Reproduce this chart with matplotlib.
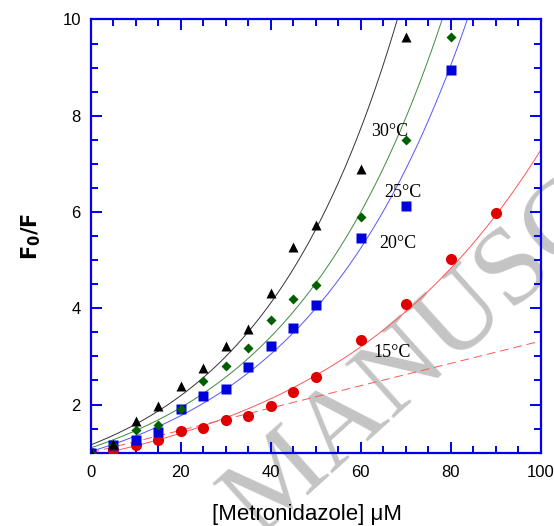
import numpy as np
import matplotlib
matplotlib.use("Agg")
import matplotlib.pyplot as plt

# concentrations (uM) and F0/F at each temperature
x_15 = [0, 5, 10, 15, 20, 25, 30, 35, 40, 45, 50, 60, 70, 80, 90]
y_15 = [1.0, 1.06, 1.16, 1.26, 1.44, 1.51, 1.68, 1.76, 1.97, 2.27, 2.57, 3.34, 4.09, 5.02, 5.97]

x_20 = [0, 5, 10, 15, 20, 25, 30, 35, 40, 45, 50, 60, 70, 80]
y_20 = [1.0, 1.15, 1.26, 1.42, 1.90, 2.17, 2.33, 2.77, 3.22, 3.58, 4.06, 5.45, 6.13, 8.95]

x_25 = [0, 5, 10, 15, 20, 25, 30, 35, 40, 45, 50, 60, 70, 80]
y_25 = [1.0, 1.16, 1.47, 1.58, 1.90, 2.49, 2.80, 3.18, 3.76, 4.19, 4.48, 5.89, 7.50, 9.63]

x_30 = [0, 5, 10, 15, 20, 25, 30, 35, 40, 45, 50, 60, 70]
y_30 = [1.0, 1.17, 1.66, 1.98, 2.39, 2.76, 3.21, 3.57, 4.31, 5.27, 5.72, 6.89, 9.64]

# linear part of 15 C (dashed)
lin_15_x = [0, 100]
lin_15_y = [1.0, 3.32]

labels = ["15°C", "20°C", "25°C", "30°C"]
label_pos = [(66.9, 3.08), (68.3, 5.35), (69.4, 6.40), (66.5, 7.67)]


def exp_fit(x, y):
    x = np.asarray(x, float)
    y = np.asarray(y, float)
    b, lna = np.polyfit(x, np.log(y), 1)
    xs = np.linspace(0, 100, 300)
    return xs, np.exp(lna) * np.exp(b * xs)


fig = plt.figure(figsize=(5.54, 5.26), dpi=100)
ax = fig.add_axes([0.1634, 0.1394, 0.8131, 0.8236])
ax.patch.set_facecolor("none")

# watermark
fig.text(0.466, -0.022, "MANUSCRIPT", rotation=42, rotation_mode="anchor",
         ha="left", va="baseline", fontsize=80, family="Liberation Serif",
         color="#c4c4c4", zorder=-1)

series = [
    (x_15, y_15, "o", "#e00000", "#ff5555", 8),
    (x_20, y_20, "s", "#0000dd", "#5555ff", 7.5),
    (x_25, y_25, "D", "#006000", "#3c8c3c", 5),
    (x_30, y_30, "^", "#000000", "#333333", 7.5),
]
for xs, ys, mk, col, lcol, ms in series:
    fx, fy = exp_fit(xs, ys)
    ax.plot(fx, fy, color=lcol, lw=0.7, zorder=2)
    ax.plot(xs, ys, mk, color=col, ms=ms, mec="none", zorder=3)

ax.plot(lin_15_x, lin_15_y, color="#ff5555", lw=0.7, dashes=(9, 5), zorder=2)

for t, (lx, ly) in zip(labels, label_pos):
    ax.text(lx, ly, t, fontsize=13, family="Liberation Serif", ha="center", va="center")

ax.set_xlim(0, 100)
ax.set_ylim(1, 10)
ax.set_xticks([0, 20, 40, 60, 80, 100])
ax.set_xticks(np.arange(0, 101, 5), minor=True)
ax.set_yticks([2, 4, 6, 8, 10])
ax.set_yticks(np.arange(1, 10.01, 0.5), minor=True)

blue = "#0000ee"
for s in ax.spines.values():
    s.set_color(blue)
    s.set_linewidth(1.6)
ax.tick_params(which="both", direction="in", top=True, right=True, color=blue,
               labelsize=12, width=1.4)
ax.tick_params(which="major", length=8)
ax.tick_params(which="minor", length=5)
ax.tick_params(axis="x", which="major", pad=9)
ax.tick_params(axis="y", which="major", pad=7)
for lab in ax.get_xticklabels() + ax.get_yticklabels():
    lab.set_family("Liberation Sans")

plt.rcParams["mathtext.fontset"] = "custom"
plt.rcParams["mathtext.bf"] = "Liberation Sans:bold"
ax.set_xlabel("[Metronidazole] μM", fontsize=16, family="Liberation Sans")
ax.xaxis.set_label_coords(0.48, -0.118)
ax.set_ylabel(r"$\mathbf{F_0/F}$", fontsize=15, labelpad=14)

fig.savefig("out.png", dpi=100)
